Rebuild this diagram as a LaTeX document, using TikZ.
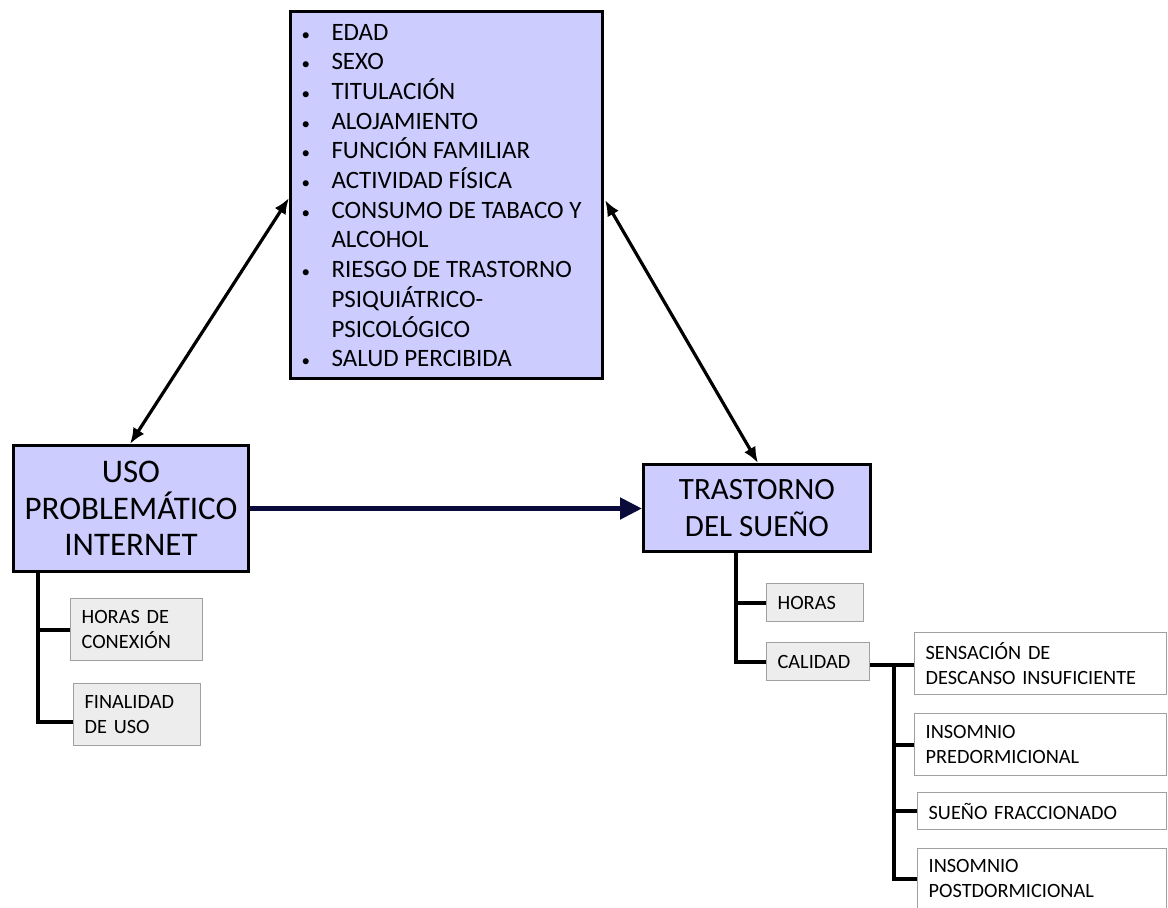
\documentclass[tikz,border=0pt]{standalone}
\usepackage{fontspec}
\setmainfont{Carlito}
\usetikzlibrary{arrows.meta,calc}
\definecolor{lav}{HTML}{CCCCFF}
\definecolor{lgray}{HTML}{EDEDED}
\definecolor{bgray}{HTML}{A0A0A0}
\definecolor{navy}{HTML}{0B0B3B}
\newcommand{\blt}{\hspace{0pt}{\fontsize{17}{17}\selectfont\textbullet}}
\tikzset{
  mainbox/.style={draw=black, line width=3pt, fill=lav, inner sep=0pt, anchor=north west, align=center},
  subbox/.style={draw=bgray, line width=1.3pt, fill=lgray, inner xsep=11pt, inner ysep=0pt, anchor=north west, align=left,
     font=\fontsize{20.3}{25}\selectfont},
  leafbox/.style={subbox, fill=white},
  tree/.style={draw=black, line width=4pt},
  dblarrow/.style={draw=black, line width=3.2pt, {Latex[length=16pt,width=13pt]}-{Latex[length=16pt,width=13pt]}},
  mainarrow/.style={draw=navy, line width=5pt, -{Triangle[length=22pt,width=21pt]}}
}
\begin{document}
\begin{tikzpicture}[x=1pt,y=-1pt]
\useasboundingbox (0,0) rectangle (1168,908);
% top factor box
\node[mainbox, minimum width=312pt, minimum height=367pt, font=\fontsize{25}{29.6}\selectfont] (factors) at (289,10)
{\begin{minipage}{290pt}\vspace{5pt}\begin{tabular}{@{}p{30pt}@{}l@{}}
\blt & EDAD\\
\blt & SEXO\\
\blt & TITULACIÓN\\
\blt & ALOJAMIENTO\\
\blt & FUNCIÓN FAMILIAR\\
\blt & ACTIVIDAD FÍSICA\\
\blt & CONSUMO DE TABACO Y\\
 & ALCOHOL\\
\blt & RIESGO DE TRASTORNO\\
 & PSIQUIÁTRICO-\\
 & PSICOLÓGICO\\
\blt & SALUD PERCIBIDA
\end{tabular}\end{minipage}};
% main boxes
\node[mainbox, minimum width=235pt, minimum height=126pt, font=\fontsize{33}{36.5}\selectfont] (uso) at (12,444)
{USO\\PROBLEMÁTICO\\INTERNET};
\node[mainbox, minimum width=227pt, minimum height=87pt, font=\fontsize{31}{37}\selectfont] (trast) at (642,463)
{TRASTORNO\\DEL SUEÑO};
% left sub boxes
\node[subbox, minimum width=132pt, text width=110pt, minimum height=62pt] (conex) at (70,598) {HORAS DE\\CONEXIÓN};
\node[subbox, minimum width=127pt, text width=105pt, minimum height=62pt] (final) at (73,683) {FINALIDAD\\DE USO};
% right sub boxes
\node[subbox, minimum width=97pt, text width=75pt, minimum height=38pt] (horas) at (766,583) {HORAS};
\node[subbox, minimum width=103pt, text width=81pt, minimum height=38pt] (calidad) at (766,642) {CALIDAD};
% leaf boxes
\node[leafbox, minimum width=252pt, text width=230pt, minimum height=62pt] (sens) at (914,632) {SENSACIÓN DE\\DESCANSO INSUFICIENTE};
\node[leafbox, minimum width=252pt, text width=230pt, minimum height=62pt] (pre) at (914,713) {INSOMNIO\\PREDORMICIONAL};
\node[leafbox, minimum width=249pt, text width=227pt, minimum height=37pt] (frac) at (917,792) {SUEÑO FRACCIONADO};
\node[leafbox, minimum width=249pt, text width=227pt, minimum height=60pt] (post) at (917,848) {INSOMNIO\\POSTDORMICIONAL};
% trees
\coordinate (lt) at ($(uso.south west)+(26,0)$);
\draw[tree] (lt) |- (conex.west);
\draw[tree] (lt) |- ([yshift=-7pt]final.west);
\coordinate (rt) at ($(trast.south west)+(94,0)$);
\draw[tree] (rt) |- (horas.west);
\draw[tree] (rt) |- (calidad.west);
\coordinate (cq) at ($(calidad.east)+(24,3)$);
\draw[tree] ([yshift=-3pt]calidad.east) -- (cq -| sens.west);
\draw[tree] (cq) |- (pre.west);
\draw[tree] (cq) |- (frac.west);
\draw[tree] (cq) |- (post.west);
% arrows
\draw[dblarrow] ($(uso.north west)+(118,0)$) -- ($(factors.north west)+(0,188)$);
\draw[dblarrow] ($(factors.north east)+(1,190)$) -- ($(trast.north west)+(116,0)$);
\draw[mainarrow] (uso.east) -- (uso.east -| trast.west);
\end{tikzpicture}
\end{document}
